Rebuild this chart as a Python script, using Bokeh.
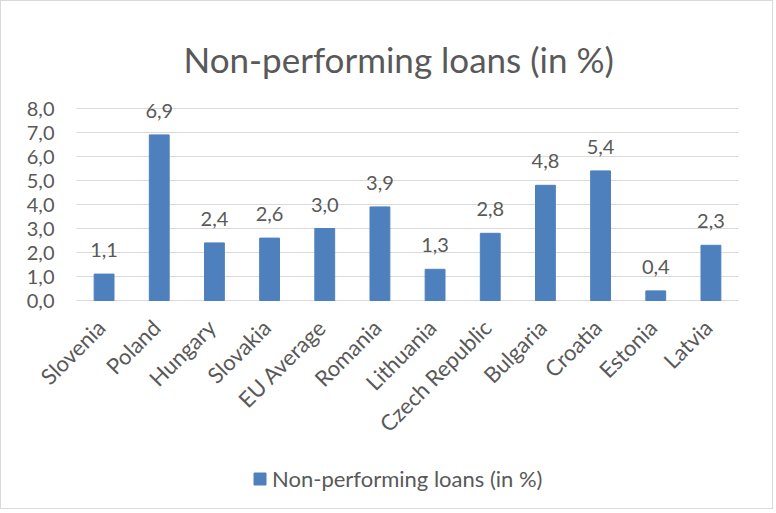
from bokeh.plotting import figure
from bokeh.models import ColumnDataSource, Legend, LegendItem, Range1d, LabelSet
from bokeh.core.properties import value
from bokeh.embed import file_html
from bokeh.resources import INLINE
import math

categories = ["Slovenia", "Poland", "Hungary", "Slovakia", "EU Average", "Romania",
              "Lithuania", "Czech Republic", "Bulgaria", "Croatia", "Estonia", "Latvia"]
values = [1.1, 6.9, 2.4, 2.6, 3.0, 3.9, 1.3, 2.8, 4.8, 5.4, 0.4, 2.3]
y_ticks = [0, 1, 2, 3, 4, 5, 6, 7, 8]
y_tick_labels = ["0,0", "1,0", "2,0", "3,0", "4,0", "5,0", "6,0", "7,0", "8,0"]
series_name = "Non-performing loans (in %)"

BAR = "#4E80BD"
TXT = "#595959"
GRID = "#D9D9D9"
FONT = "Lato"

# ---- layout constants (pixels) ----
W, H = 773, 509
TOP = 85                  # frame top (below title)
PLOT_TOP = 107            # position of the top gridline
PLOT_LEFT, PLOT_W = 75, 662
PLOT_H = 192
n = len(categories)
y_max = y_ticks[-1]
px_per_x = PLOT_W / n
px_per_y = PLOT_H / y_max
X_MIN = -PLOT_LEFT / px_per_x
X_MAX = X_MIN + W / px_per_x
Y_MAX = y_max + (PLOT_TOP - TOP) / px_per_y
Y_MIN = Y_MAX - (H - TOP) / px_per_y

x_pos = [i + 0.5 for i in range(n)]
src = ColumnDataSource(dict(x=x_pos, cat=categories, val=values,
                            lab=[f"{v:.1f}".replace(".", ",") for v in values]))
grid_src = ColumnDataSource(dict(y=y_ticks, lab=y_tick_labels,
                                 x0=[0] * len(y_ticks), x1=[n] * len(y_ticks)))

p = figure(x_range=Range1d(X_MIN, X_MAX), y_range=Range1d(Y_MIN, Y_MAX),
           width=W, height=H, x_axis_location=None, y_axis_location=None,
           min_border_left=0, min_border_right=0, min_border_top=TOP, min_border_bottom=0,
           output_backend="svg", toolbar_location=None,
           title=series_name)
p.styles = {"border": "1px solid #D9D9D9"}
p.outline_line_color = None
p.grid.visible = False

p.title.align = "left"
p.title.offset = 182
p.title.text_font = FONT
p.title.text_font_size = "35px"
p.title.text_font_style = "normal"
p.title.text_color = TXT
p.title.standoff = 14

# value gridlines (0 line doubles as category axis line)
p.segment(x0="x0", x1="x1", y0="y", y1="y", source=grid_src, line_color=GRID, line_width=1)

r = p.vbar(x="x", top="val", width=0.36, source=src, color=BAR)

# value axis labels
p.add_layout(LabelSet(x="x0", y="y", text="lab", source=grid_src, text_align="right",
                      text_baseline="middle", x_offset=-22,
                      text_font=value(FONT), text_font_size=value("20px"), text_color=TXT))

# data labels
p.add_layout(LabelSet(x="x", y="val", text="lab", source=src, text_align="center",
                      text_baseline="bottom", y_offset=17, text_font=value(FONT),
                      text_font_size=value("20px"), text_color=TXT))

# category labels
p.add_layout(LabelSet(x="x", y=0, text="cat", source=src, text_align="right",
                      text_baseline="middle", angle=math.pi / 4, x_offset=-3, y_offset=-23,
                      text_font=value(FONT), text_font_size=value("22px"), text_color=TXT))

legend = Legend(items=[LegendItem(label=series_name, renderers=[r])],
                orientation="horizontal", location=(251, 18),
                label_text_font=FONT, label_text_font_size="22px", label_text_color=TXT,
                glyph_width=15, glyph_height=15, border_line_color=None,
                background_fill_alpha=0, margin=0, padding=0)
p.add_layout(legend, "center")

open("out.html", "w").write(file_html(p, INLINE))
